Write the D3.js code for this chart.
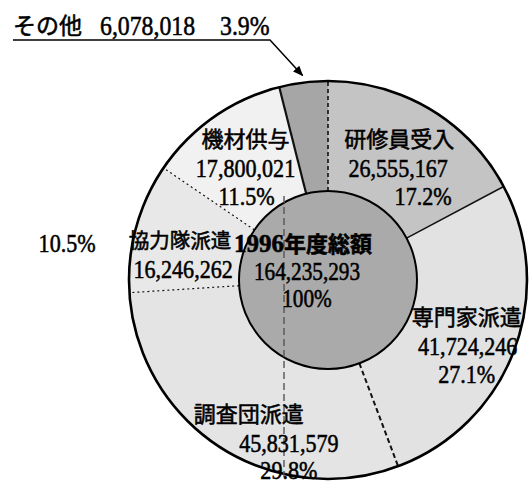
<!DOCTYPE html>
<html><head><meta charset="utf-8">
<script src="https://cdn.jsdelivr.net/npm/d3@7"></script>
<style>body{margin:0;background:#fff} text{stroke:#000;stroke-width:0.55px}</style>
</head><body><svg id="c" width="531" height="483"></svg>
<script>
// ---- data ----
const categories = ["研修員受入","専門家派遣","調査団派遣","協力隊派遣","機材供与","その他"];
const values = [26555167, 41724246, 45831579, 16246262, 17800021, 6078018];
const percents = ["17.2%","27.1%","29.8%","10.5%","11.5%","3.9%"];
const totalTitle = ["1996", "年度総額"];
const totalLabel = "164,235,293";
const totalPercent = "100%";

// ---- style / layout ----
const cx = 328, cy = 280, rIn = 89, rOut = 199;
const fills = ["#c4c4c4","#e2e2e2","#e4e4e4","#e8e8e8","#f1f1f1","#a6a6a6"];
const centerFill = "#aaaaaa";
const boundary = [
  {w:1.6, dash:"4,3"},
  {w:1.5, dash:null},
  {w:2, dash:"5,3"},
  {w:1.2, dash:"2,3"},
  {w:1.2, dash:"2,3"},
  {w:2.2, dash:null}
];
// label offsets relative to arc centroid
const labelPos = [
  {dx:-4, dy:11, nameDx:1, pctDx:25, pctDy:37, nameSize:22},
  {dx:5, dy:15, nameDx:-1, pctDx:-1, pctDy:37, nameSize:22},
  {dx:39, dy:42, nameDx:-40, pctDx:0, pctDy:36, nameSize:22},
  {dx:-6, dy:27, nameDx:-3, pctDx:-116, pctDy:-17, nameSize:20.5},
  {dx:0, dy:6, nameDx:0, pctDx:1, pctDy:37, nameSize:22}
];
const cjk = "'Noto Sans CJK JP', sans-serif";
const serif = "'Liberation Serif', 'Noto Sans CJK JP', serif";
const fmt = d3.format(",");

const svg = d3.select("#c");
const g = svg.append("g").attr("transform", `translate(${cx},${cy})`);

const pie = d3.pie().sort(null).value(d => d).startAngle(0).endAngle(2*Math.PI);
const arcs = pie(values);
const ring = d3.arc().innerRadius(rIn).outerRadius(rOut);

g.selectAll("path.slice").data(arcs).join("path")
  .attr("class","slice").attr("d", ring)
  .attr("fill", (d,i) => fills[i]);

// vertical fold line (scan artifact)
svg.append("line").attr("x1",284).attr("x2",284).attr("y1",196).attr("y2",477)
  .attr("stroke","#555").attr("stroke-width",1.4).attr("stroke-dasharray","7,4");

// slice boundaries
const pt = (a, r) => [Math.sin(a)*r, -Math.cos(a)*r];
g.selectAll("line.bd").data(arcs).join("line")
  .attr("class","bd")
  .attr("x1", d => pt(d.startAngle, rIn)[0]).attr("y1", d => pt(d.startAngle, rIn)[1])
  .attr("x2", d => pt(d.startAngle, rOut)[0]).attr("y2", d => pt(d.startAngle, rOut)[1])
  .attr("stroke", "#111")
  .attr("stroke-width", (d,i) => boundary[i].w)
  .attr("stroke-dasharray", (d,i) => boundary[i].dash);

// outer circle
g.append("circle").attr("r", rOut).attr("fill","none").attr("stroke","#000").attr("stroke-width",2.6);
// centre disk
g.append("circle").attr("r", rIn).attr("fill", centerFill).attr("stroke","#000").attr("stroke-width",2);

// text helpers
function numText(x, y, str, size) {
  svg.append("text")
    .attr("transform", `translate(${x},${y}) scale(0.85,1)`)
    .attr("text-anchor","middle")
    .attr("font-family", serif).attr("font-size", size)
    .attr("fill","#000").text(str);
}
function cjkText(x, y, str, size, anchor) {
  svg.append("text")
    .attr("x", x).attr("y", y)
    .attr("text-anchor", anchor || "middle")
    .attr("font-family", cjk).attr("font-size", size)
    .attr("fill","#000").text(str);
}

arcs.forEach((d, i) => {
  if (i >= labelPos.length) return;
  const c = ring.centroid(d);
  const p = labelPos[i];
  const ax = cx + c[0] + p.dx, ay = cy + c[1] + p.dy;
  cjkText(ax + p.nameDx, ay - 21, categories[i], p.nameSize);
  numText(ax, ay + 9, fmt(values[i]), 26);
  numText(ax + p.pctDx, ay + p.pctDy, percents[i], 26);
});

// centre text
svg.append("text")
  .attr("transform", `translate(${cx-25},${cy-28})`)
  .attr("text-anchor","middle").attr("font-size",22).attr("font-weight","bold")
  .attr("fill","#000")
  .call(t => {
    t.append("tspan").attr("font-family", serif).attr("font-size",25).text(totalTitle[0]);
    t.append("tspan").attr("font-family", cjk).text(totalTitle[1]);
  });
numText(cx - 21, cy + 0, totalLabel, 25);
numText(cx - 21, cy + 27, totalPercent, 25);

// その他 external label with leader
const other = arcs[5];
const mid = (other.startAngle + other.endAngle) / 2;
const tip = pt(mid, rOut + 7);
svg.append("defs").append("marker").attr("id","ah")
  .attr("viewBox","0 0 10 10").attr("refX",9).attr("refY",5)
  .attr("markerWidth",7).attr("markerHeight",7).attr("orient","auto")
  .append("path").attr("d","M0,1 L10,5 L0,9 Z").attr("fill","#000");
svg.append("path")
  .attr("d", `M13,40 H270 L${cx+tip[0]},${cy+tip[1]}`)
  .attr("fill","none").attr("stroke","#000").attr("stroke-width",1.5)
  .attr("marker-end","url(#ah)");
cjkText(13, 34, categories[5], 23, "start");
svg.append("text")
  .attr("transform", `translate(100,35) scale(0.85,1)`)
  .attr("font-family", serif).attr("font-size", 28).attr("fill","#000")
  .text(fmt(values[5]));
svg.append("text")
  .attr("transform", `translate(220,35) scale(0.85,1)`)
  .attr("font-family", serif).attr("font-size", 28).attr("fill","#000")
  .text(percents[5]);
</script></body></html>
